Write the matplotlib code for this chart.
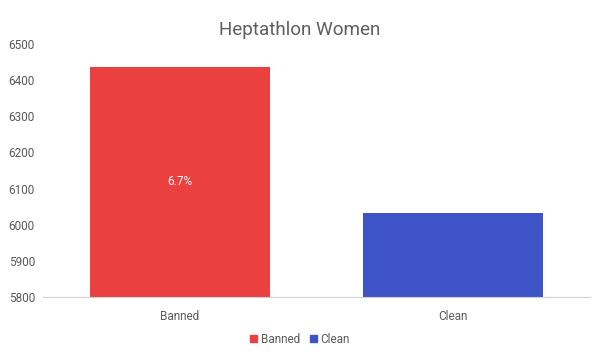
import matplotlib.pyplot as plt
from matplotlib.patches import Patch

plt.rcParams['font.family'] = ['Roboto', 'DejaVu Sans']

categories = ["Banned", "Clean"]
points = [6437, 6033]
colors = ["#eb4040", "#3d53c6"]
bar_labels = ["6.7%", ""]
yticks = [5800, 5900, 6000, 6100, 6200, 6300, 6400, 6500]

fig = plt.figure(figsize=(6, 3.55), dpi=100)
ax = fig.add_axes([0.072, 0.163, 0.911, 0.713])

x = range(len(categories))
bars = ax.bar(x, points, width=0.66, color=colors, bottom=0)
ax.set_ylim(5800, 6500)
ax.set_xlim(-0.5, 1.5)
ax.set_yticks(yticks)
ax.set_xticks(list(x))
ax.set_xticklabels(categories)

for b, v, lab in zip(bars, points, bar_labels):
    if lab:
        ax.text(b.get_x() + b.get_width() / 2, (5800 + v) / 2, lab,
                ha="center", va="center", color="white", fontsize=8.5)

for s in ["top", "right", "left"]:
    ax.spines[s].set_visible(False)
ax.spines["bottom"].set_color("#d0d0d0")
ax.tick_params(axis="both", length=0, labelsize=8.5, colors="#5a5a5a")
ax.tick_params(axis="x", pad=9)
ax.tick_params(axis="y", pad=6)

fig.text(0.5, 0.915, "Heptathlon Women", ha="center", va="center",
         fontsize=13.6, color="#5f5f5f")

handles = [Patch(color=c, label=n) for c, n in zip(colors, categories)]
fig.legend(handles=handles, loc="center", bbox_to_anchor=(0.5, 0.045), ncol=2,
           frameon=False, fontsize=8.5, handlelength=0.6, handleheight=0.6,
           handletextpad=0.3, columnspacing=0.8, labelcolor="#5a5a5a")

plt.savefig("out.png", dpi=100)
